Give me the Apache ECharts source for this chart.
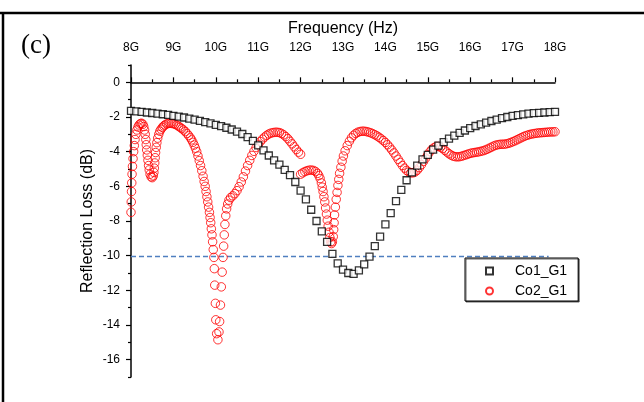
<!DOCTYPE html>
<html>
<head>
<meta charset="utf-8">
<script src="https://cdn.jsdelivr.net/npm/echarts@6/dist/echarts.min.js"></script>
<style>
  html, body { margin: 0; padding: 0; background: #fff; }
  #chart { width: 644px; height: 402px; }
</style>
</head>
<body>
<div id="chart"></div>
<script>
// tick labels
const xTickLabels = ['8G', '9G', '10G', '11G', '12G', '13G', '14G', '15G', '16G', '17G', '18G'];
const yMajorTicks = [0, -2, -4, -6, -8, -10, -12, -14, -16];
const yMinorTicks = [1, -1, -3, -5, -7, -9, -11, -13, -15, -17];

// Co1_G1 : frequency (GHz) and reflection loss (dB)
const co1Freq = [8.000, 8.125, 8.250, 8.375, 8.500, 8.625, 8.750, 8.875, 9.000, 9.125, 9.250, 9.375, 9.500, 9.625, 9.750, 9.875,
  10.000, 10.125, 10.250, 10.375, 10.500, 10.625, 10.750, 10.875, 11.000, 11.125, 11.250, 11.375, 11.500, 11.625, 11.750, 11.875,
  12.000, 12.125, 12.250, 12.375, 12.500, 12.625, 12.750, 12.875, 13.000, 13.125, 13.250, 13.375, 13.500, 13.625, 13.750, 13.875,
  14.000, 14.125, 14.250, 14.375, 14.500, 14.625, 14.750, 14.875, 15.000, 15.125, 15.250, 15.375, 15.500, 15.625, 15.750, 15.875,
  16.000, 16.125, 16.250, 16.375, 16.500, 16.625, 16.750, 16.875, 17.000, 17.125, 17.250, 17.375, 17.500, 17.625, 17.750, 17.875, 18.000];
const co1Loss = [-1.65, -1.68, -1.71, -1.74, -1.77, -1.80, -1.84, -1.88, -1.93, -1.98, -2.03, -2.09, -2.15, -2.22, -2.29, -2.37,
  -2.45, -2.53, -2.62, -2.72, -2.84, -2.98, -3.16, -3.38, -3.64, -3.93, -4.22, -4.50, -4.75, -5.05, -5.35, -5.75,
  -6.25, -6.75, -7.35, -8.00, -8.60, -9.20, -9.90, -10.45, -10.80, -11.00, -11.05, -10.85, -10.50, -10.05, -9.45, -8.90,
  -8.20, -7.55, -6.85, -6.20, -5.65, -5.20, -4.80, -4.45, -4.18, -3.88, -3.65, -3.45, -3.25, -3.08, -2.92, -2.78,
  -2.64, -2.52, -2.42, -2.32, -2.23, -2.15, -2.07, -2.00, -1.94, -1.89, -1.85, -1.81, -1.78, -1.76, -1.74, -1.72, -1.70];

// Co2_G1, first sweep (8 - 12 GHz): [GHz, dB]
const co2Low = [
  [8.000, -7.50], [8.006, -6.90], [8.012, -6.30], [8.018, -5.80], [8.025, -5.30], [8.035, -4.85], [8.048, -4.40], [8.062, -4.00],
  [8.078, -3.65], [8.095, -3.30], [8.115, -3.00], [8.140, -2.75], [8.165, -2.58], [8.190, -2.46], [8.220, -2.38], [8.250, -2.36],
  [8.280, -2.42], [8.300, -2.55], [8.320, -2.75], [8.335, -3.00], [8.350, -3.30], [8.360, -3.60], [8.370, -3.90], [8.385, -4.20],
  [8.400, -4.50], [8.415, -4.80], [8.430, -5.05], [8.450, -5.30], [8.475, -5.45], [8.500, -5.50], [8.525, -5.40], [8.540, -5.20],
  [8.550, -4.95], [8.560, -4.65], [8.570, -4.35], [8.580, -4.05], [8.595, -3.75], [8.610, -3.48], [8.630, -3.22], [8.655, -3.00],
  [8.680, -2.82], [8.710, -2.70], [8.740, -2.60], [8.770, -2.52], [8.800, -2.46], [8.840, -2.40], [8.880, -2.37], [8.920, -2.36],
  [8.960, -2.37], [9.000, -2.39], [9.040, -2.42], [9.080, -2.47], [9.120, -2.53], [9.160, -2.60], [9.200, -2.67], [9.240, -2.75],
  [9.280, -2.84], [9.320, -2.95], [9.360, -3.07], [9.400, -3.20], [9.430, -3.32], [9.460, -3.46], [9.490, -3.62], [9.520, -3.80],
  [9.550, -4.00], [9.580, -4.25], [9.610, -4.52], [9.640, -4.80], [9.670, -5.10], [9.700, -5.42], [9.725, -5.72], [9.750, -6.00],
  [9.770, -6.30], [9.790, -6.60], [9.810, -6.90], [9.830, -7.20], [9.850, -7.50], [9.865, -7.80], [9.880, -8.10], [9.895, -8.45],
  [9.910, -8.80], [9.925, -9.20], [9.940, -9.65], [9.955, -10.10], [9.965, -10.75], [9.975, -11.70], [9.990, -12.75], [10.000, -13.70],
  [10.020, -14.50], [10.050, -14.85], [10.075, -14.40], [10.090, -13.80], [10.110, -12.85], [10.130, -11.80], [10.150, -10.95], [10.170, -10.10],
  [10.185, -9.45], [10.200, -8.80], [10.215, -8.20], [10.235, -7.70], [10.255, -7.30], [10.280, -7.02], [10.310, -6.80], [10.350, -6.65],
  [10.400, -6.55], [10.450, -6.42], [10.500, -6.25], [10.550, -6.02], [10.600, -5.75], [10.650, -5.45], [10.700, -5.12], [10.750, -4.80],
  [10.800, -4.50], [10.850, -4.22], [10.900, -3.98], [10.950, -3.76], [11.000, -3.58], [11.050, -3.42], [11.100, -3.28], [11.150, -3.16],
  [11.200, -3.06], [11.250, -2.98], [11.300, -2.93], [11.350, -2.90], [11.400, -2.88], [11.450, -2.88], [11.500, -2.90], [11.550, -2.95],
  [11.600, -3.03], [11.650, -3.13], [11.700, -3.25], [11.750, -3.40], [11.800, -3.55], [11.850, -3.72], [11.900, -3.88], [11.950, -4.03],
  [12.000, -4.15]
];

// Co2_G1, second sweep (12 - 18 GHz): [GHz, dB]
const co2High = [
  [12.000, -5.30], [12.050, -5.22], [12.100, -5.15], [12.150, -5.10], [12.200, -5.07], [12.250, -5.06], [12.300, -5.08], [12.350, -5.14],
  [12.400, -5.25], [12.430, -5.38], [12.460, -5.55], [12.490, -5.80], [12.510, -6.05], [12.530, -6.30], [12.550, -6.60], [12.570, -6.90],
  [12.590, -7.25], [12.610, -7.60], [12.630, -7.95], [12.650, -8.30], [12.670, -8.65], [12.690, -8.95], [12.710, -9.20], [12.730, -9.30],
  [12.750, -9.20], [12.770, -8.90], [12.780, -8.50], [12.790, -8.10], [12.800, -7.65], [12.820, -7.20], [12.840, -6.75], [12.860, -6.35],
  [12.880, -5.95], [12.900, -5.60], [12.920, -5.25], [12.950, -4.90], [12.980, -4.55], [13.010, -4.25], [13.050, -3.95], [13.100, -3.65],
  [13.150, -3.40], [13.200, -3.20], [13.250, -3.05], [13.300, -2.95], [13.350, -2.88], [13.400, -2.84], [13.450, -2.82], [13.500, -2.82],
  [13.550, -2.84], [13.600, -2.87], [13.650, -2.91], [13.700, -2.96], [13.750, -3.02], [13.800, -3.09], [13.850, -3.17], [13.900, -3.26],
  [13.950, -3.36], [14.000, -3.47], [14.050, -3.60], [14.100, -3.74], [14.150, -3.90], [14.200, -4.07], [14.250, -4.25], [14.300, -4.44],
  [14.350, -4.62], [14.400, -4.80], [14.450, -4.95], [14.500, -5.08], [14.550, -5.17], [14.600, -5.22], [14.650, -5.22], [14.700, -5.17],
  [14.750, -5.07], [14.800, -4.92], [14.850, -4.75], [14.900, -4.56], [14.950, -4.37], [15.000, -4.18], [15.050, -4.00], [15.100, -3.86],
  [15.150, -3.76], [15.200, -3.70], [15.250, -3.70], [15.300, -3.74], [15.350, -3.82], [15.400, -3.92], [15.450, -4.02], [15.500, -4.12],
  [15.550, -4.20], [15.600, -4.26], [15.650, -4.29], [15.700, -4.30], [15.750, -4.29], [15.800, -4.26], [15.850, -4.22], [15.900, -4.18],
  [15.950, -4.14], [16.000, -4.10], [16.050, -4.07], [16.100, -4.05], [16.150, -4.03], [16.200, -4.01], [16.250, -3.98], [16.300, -3.95],
  [16.350, -3.91], [16.400, -3.86], [16.450, -3.80], [16.500, -3.74], [16.550, -3.68], [16.600, -3.63], [16.650, -3.60], [16.700, -3.58],
  [16.750, -3.57], [16.800, -3.57], [16.850, -3.55], [16.900, -3.52], [16.950, -3.48], [17.000, -3.43], [17.050, -3.38], [17.100, -3.32],
  [17.150, -3.26], [17.200, -3.20], [17.250, -3.14], [17.300, -3.09], [17.350, -3.05], [17.400, -3.01], [17.450, -2.98], [17.500, -2.96],
  [17.550, -2.94], [17.600, -2.92], [17.650, -2.91], [17.700, -2.90], [17.750, -2.89], [17.800, -2.88], [17.850, -2.87], [17.900, -2.86],
  [17.950, -2.86], [18.000, -2.85]
];

// -10 dB reference line
const refFreq = [8, 17.85];
const refLoss = -10.05;

const font = 'Liberation Sans, Arial, sans-serif';
let chart = echarts.init(document.getElementById('chart'), null, {renderer: 'canvas'});

let co1Data = co1Freq.map((f, i) => [f, co1Loss[i]]);
let co2Data = co2Low.concat(co2High);

let option = {
  animation: false,
  backgroundColor: '#fff',
  grid: {left: 131, right: 89, top: 65, bottom: 25},
  xAxis: {
    type: 'value',
    position: 'top',
    min: 8,
    max: 18,
    interval: 1,
    name: 'Frequency (Hz)',
    nameLocation: 'middle',
    nameGap: 28,
    nameTextStyle: {color: '#000', fontSize: 16, fontFamily: font},
    axisLine: {show: true, lineStyle: {color: '#000', width: 1.5}},
    axisTick: {show: true, length: 5, lineStyle: {color: '#000', width: 1.2}},
    minorTick: {show: true, splitNumber: 2, length: 3, lineStyle: {color: '#000', width: 1.2}},
    axisLabel: {
      color: '#000', fontSize: 12, fontFamily: font, margin: 11,
      formatter: (v) => xTickLabels[Math.round(v - 8)]
    },
    splitLine: {show: false}
  },
  yAxis: [
    {
      type: 'value',
      min: -17,
      max: 1,
      name: 'Reflection Loss (dB)',
      nameLocation: 'middle',
      nameGap: 35,
      nameMoveOverlap: false,
      nameTextStyle: {color: '#000', fontSize: 16, fontFamily: font},
      axisLine: {show: true, lineStyle: {color: '#000', width: 1.5}},
      axisTick: {show: true, length: 5, customValues: yMajorTicks, lineStyle: {color: '#000', width: 1.2}},
      axisLabel: {color: '#000', fontSize: 12, fontFamily: font, margin: 11, customValues: yMajorTicks},
      splitLine: {show: false}
    },
    {
      // minor ticks only
      type: 'value',
      min: -17,
      max: 1,
      position: 'left',
      axisLine: {show: false},
      axisTick: {show: true, length: 3, customValues: yMinorTicks, lineStyle: {color: '#000', width: 1.2}},
      axisLabel: {show: false},
      splitLine: {show: false}
    }
  ],
  legend: {
    orient: 'vertical',
    left: 465,
    top: 258,
    data: ['Co1_G1', 'Co2_G1'],
    itemWidth: 7,
    itemHeight: 7,
    itemGap: 4,
    padding: [5, 11, 2, 20],
    borderColor: '#000',
    borderWidth: 1,
    backgroundColor: '#fff',
    shadowColor: 'rgba(0,0,0,0.6)',
    shadowOffsetX: 1,
    shadowOffsetY: 1,
    shadowBlur: 0,
    textStyle: {color: '#000', fontSize: 14, fontFamily: font, lineHeight: 16, padding: [0, 0, 0, 17]}
  },
  series: [
    {
      name: 'threshold',
      type: 'line',
      data: refFreq.map(f => [f, refLoss]),
      symbol: 'none',
      silent: true,
      lineStyle: {color: '#4f7fc0', width: 1.5, type: [5, 3]},
      z: 1
    },
    {
      name: 'Co2_G1',
      type: 'scatter',
      data: co2Data,
      symbol: 'circle',
      symbolSize: 8.5,
      itemStyle: {color: 'rgba(255,255,255,0)', borderColor: '#ff0000', borderWidth: 1},
      z: 2
    },
    {
      name: 'Co1_G1',
      type: 'scatter',
      data: co1Data,
      symbol: 'rect',
      symbolSize: 7,
      itemStyle: {color: '#fff', borderColor: '#000', borderWidth: 1.3},
      z: 3
    }
  ],
  graphic: [
    {type: 'line', shape: {x1: 0, y1: 13, x2: 644, y2: 13}, style: {stroke: '#000', lineWidth: 2.5}},
    {type: 'line', shape: {x1: 3, y1: 13, x2: 3, y2: 402}, style: {stroke: '#000', lineWidth: 2.5}},
    {type: 'text', left: 21, top: 32, style: {text: '(c)', font: '27px "Liberation Serif", "Times New Roman", serif', fill: '#000'}}
  ]
};
chart.setOption(option);
</script>
</body>
</html>
